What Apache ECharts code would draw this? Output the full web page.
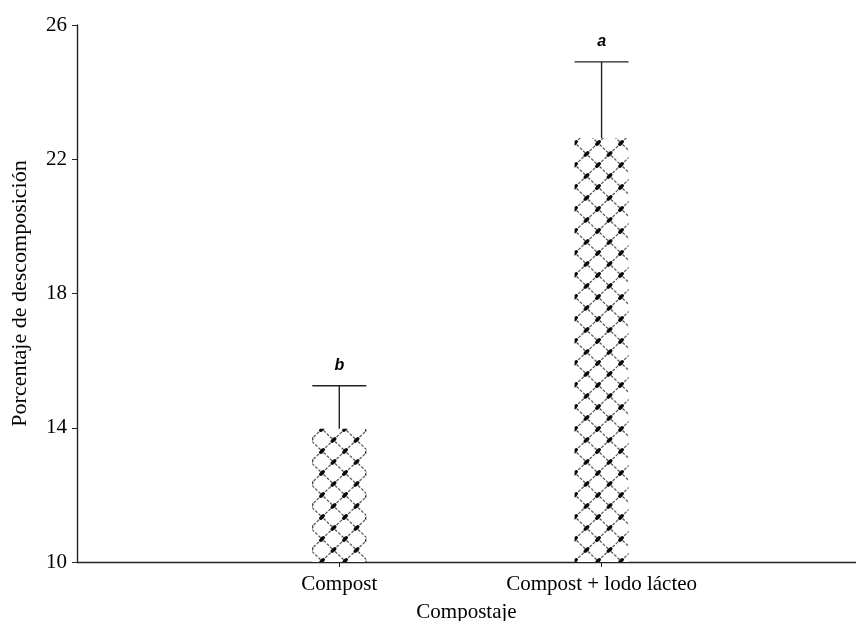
<!DOCTYPE html>
<html>
<head>
<meta charset="utf-8">
<script src="https://cdn.jsdelivr.net/npm/echarts@6/dist/echarts.min.js"></script>
<style>
  html, body { margin: 0; padding: 0; background: #fff; }
  #chart { width: 856px; height: 621px; }
</style>
</head>
<body>
<div id="chart"></div>
<script>
// Treatments and measured decomposition (%)
var categories = ['Compost', 'Compost + lodo lácteo'];
var means = [13.97, 22.63];
var upperErr = [15.25, 24.9];
var letters = ['b', 'a'];
var yTicks = [10, 14, 18, 22, 26];

// Treatments sit at x = 1 and x = 2 on a numeric axis
var catPos = categories.map(function (c, i) { return i + 1; });
var barData = catPos.map(function (x, i) { return [x, means[i]]; });
var errData = catPos.map(function (x, i) {
  return [x, means[i], upperErr[i], letters[i]];
});

// Chain-link fill for the bars
function makeLinkPattern() {
  var w = 23, h = 22;
  var c = document.createElement('canvas');
  c.width = w; c.height = h;
  var g = c.getContext('2d');
  g.fillStyle = '#fff';
  g.fillRect(0, 0, w, h);
  g.strokeStyle = '#5e5e5e';
  g.lineWidth = 1.3;
  g.setLineDash([3, 1.5]);
  g.beginPath();
  g.moveTo(0, h / 2); g.lineTo(w / 2, 0); g.lineTo(w, h / 2);
  g.lineTo(w / 2, h); g.closePath();
  g.stroke();
  g.setLineDash([]);
  g.fillStyle = '#0a0a0a';
  var pts = [[w / 2, 0], [w / 2, h], [0, h / 2], [w, h / 2]];
  pts.forEach(function (p) {
    g.save();
    g.translate(p[0], p[1]);
    g.rotate(-Math.PI / 4);
    g.beginPath();
    g.ellipse(0, 0, 3.6, 1.9, 0, 0, Math.PI * 2);
    g.fill();
    g.restore();
  });
  return c;
}

var chart = echarts.init(document.getElementById('chart'), null, { renderer: 'canvas' });
var serif = '"Liberation Serif", "Times New Roman", serif';
var axisColor = '#222';

chart.setOption({
  animation: false,
  backgroundColor: '#fff',
  grid: {
    left: 77, right: 0, top: 25, bottom: 59,
    containLabel: false, outerBoundsMode: 'none'
  },
  xAxis: {
    type: 'value',
    min: 0,
    max: 2.97,
    name: 'Compostaje',
    nameLocation: 'middle',
    nameGap: 40,
    nameTextStyle: { fontFamily: serif, fontSize: 21, color: '#000' },
    axisLine: { lineStyle: { color: axisColor, width: 1.4 } },
    axisTick: {
      show: true,
      length: 5,
      customValues: catPos,
      lineStyle: { color: axisColor }
    },
    axisLabel: {
      customValues: catPos,
      margin: 12,
      fontFamily: serif, fontSize: 21, color: '#000',
      formatter: function (v) { return categories[Math.round(v) - 1] || ''; }
    },
    splitLine: { show: false }
  },
  yAxis: {
    type: 'value',
    min: yTicks[0],
    max: yTicks[yTicks.length - 1],
    interval: 4,
    name: 'Porcentaje de descomposición',
    nameLocation: 'middle',
    nameGap: 46,
    nameRotate: 90,
    nameTextStyle: { fontFamily: serif, fontSize: 22, color: '#000' },
    axisLine: { show: true, lineStyle: { color: axisColor, width: 1.4 } },
    axisTick: { show: true, length: 5, lineStyle: { color: axisColor } },
    axisLabel: { margin: 10, fontFamily: serif, fontSize: 21, color: '#000' },
    splitLine: { show: false }
  },
  series: [
    {
      type: 'bar',
      data: barData,
      barWidth: 54,
      itemStyle: {
        color: { image: makeLinkPattern(), repeat: 'repeat' }
      },
      z: 2
    },
    {
      type: 'custom',
      data: errData,
      z: 3,
      renderItem: function (params, api) {
        var x = api.value(0);
        var base = api.coord([x, api.value(1)]);
        var top = api.coord([x, api.value(2)]);
        var half = 27;
        return {
          type: 'group',
          children: [
            { type: 'line', shape: { x1: base[0], y1: base[1], x2: top[0], y2: top[1] },
              style: { stroke: axisColor, lineWidth: 1.4 } },
            { type: 'line', shape: { x1: top[0] - half, y1: top[1], x2: top[0] + half, y2: top[1] },
              style: { stroke: axisColor, lineWidth: 1.4 } },
            { type: 'text', x: top[0], y: top[1] - 20,
              style: { text: api.value(3), textAlign: 'center', textVerticalAlign: 'middle',
                       font: 'italic bold 16px "Liberation Sans", Arial, sans-serif', fill: '#000' } }
          ]
        };
      }
    }
  ]
});
</script>
</body>
</html>
